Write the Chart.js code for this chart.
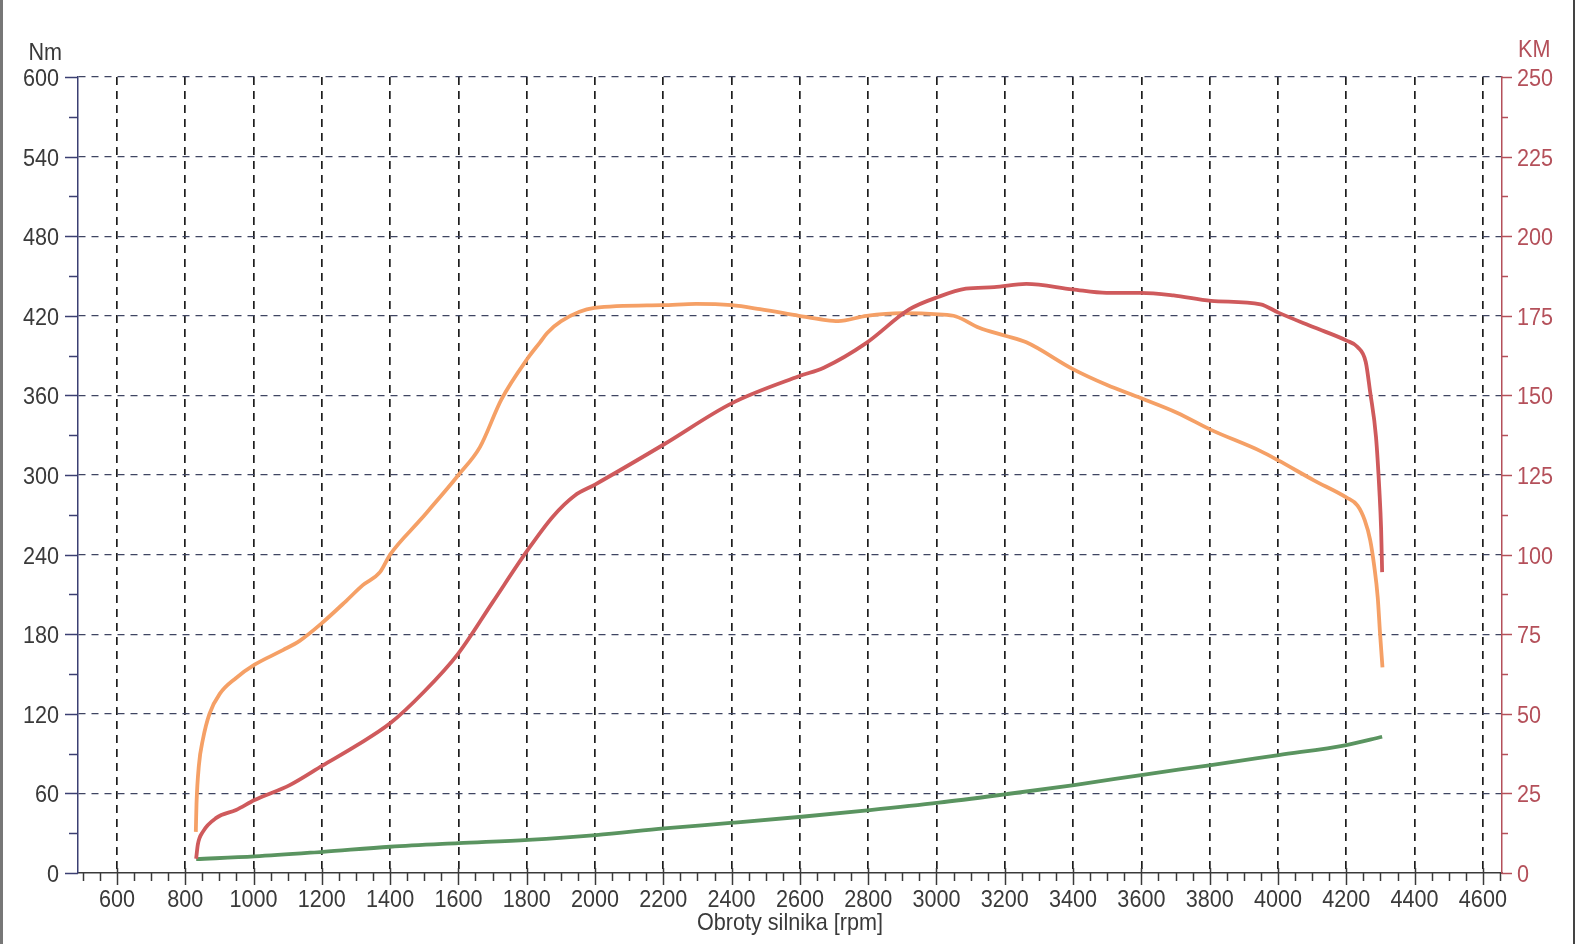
<!DOCTYPE html>
<html>
<head>
<meta charset="utf-8">
<script src="https://cdn.jsdelivr.net/npm/chart.js@4.4.1/dist/chart.umd.min.js"></script>
<style>
html,body{margin:0;padding:0;background:#fff;}
#wrap{position:relative;width:1578px;height:944px;overflow:hidden;}
canvas{display:block;}
#frame{position:absolute;left:0;top:0;width:1575px;height:944px;border-left:3px solid #777;border-right:2px solid #444;box-sizing:border-box;pointer-events:none;}
</style>
</head>
<body>
<div id="wrap"><canvas id="c" width="1578" height="944"></canvas><div id="frame"></div></div>
<script>
// ---- data ----
const torqueRpm = [831,833,840,852,871,901,949,1003,1086,1135,1203,1271,1320,1371,1400,1488,1565,1600,1663,1726,1803,1839,1860,1901,1998,2197,2296,2400,2483,2597,2670,2712,2795,2900,3007,3057,3125,3201,3263,3398,3498,3598,3704,3804,3949,4001,4105,4201,4233,4254,4270,4282,4292,4299,4306];
const torqueNm  = [31,52,81,101,120,135,147,157,168,175,189,205,217,227,240,266,289,300,321,357,388,400,407,416,426,428,429,428,425,420,417,416,420,422,421,419.5,411,405,400,380,368,358,347,334,318,311,296,283,277,266,251,231,208,180,155];

const powerRpm = [832,837,852,891,949,1003,1106,1203,1301,1400,1500,1600,1700,1800,1877,1940,2000,2200,2400,2597,2670,2795,2920,3007,3086,3169,3263,3398,3498,3598,3694,3804,3949,4001,4105,4201,4233,4257,4270,4287,4297,4302,4305];
const powerKM  = [4.5,9,13,17.3,19.8,22.9,27.6,33.8,40,47,57,69,85,101,112,118.5,122,134.5,147.5,156,158.7,166.5,177,181,183.5,184,185,183.3,182.2,182.2,181.4,179.7,178.6,176,171.4,167.2,165.2,160.5,151,137,120,108,94.5];

const thirdRpm = [832,1003,1203,1400,1600,1805,2003,2203,2405,2605,2805,3007,3206,3403,3599,3804,4002,4200,4305];
const thirdVal = [10.5,12.5,16,19.8,22.5,25,28.6,33.6,37.9,42.4,47.4,53,59.5,66.3,73.8,81.4,88.9,96.4,102.7];

const rpmTicks = [600,800,1000,1200,1400,1600,1800,2000,2200,2400,2600,2800,3000,3200,3400,3600,3800,4000,4200,4400,4600];
const nmTicks  = [0,60,120,180,240,300,360,420,480,540,600];
const kmTicks  = [0,25,50,75,100,125,150,175,200,225,250];

const xTitle = 'Obroty silnika [rpm]';
const leftUnit = 'Nm';
const rightUnit = 'KM';

// ---- styling ----
const FONT = '"Liberation Sans", Arimo, Arial, sans-serif';
const FSIZE = 24;
const SQ = 0.9; // narrow face of the original
const C_TEXT = '#3a3a3a', C_LEFT = '#3b3f72', C_RIGHT = '#b4505a';
const zip = (xs, ys) => xs.map((v, i) => ({x: v, y: ys[i]}));

function narrowText(ctx, text, x, y, align, color) {
  ctx.save();
  ctx.fillStyle = color;
  ctx.font = FSIZE + 'px ' + FONT;
  ctx.textAlign = align;
  ctx.textBaseline = 'alphabetic';
  ctx.translate(x, y);
  ctx.scale(SQ, 1);
  ctx.fillText(text, 0, 0);
  ctx.restore();
}

const axisPlugin = {
  id: 'axisDecor',
  afterDraw(chart) {
    const {ctx, chartArea, scales} = chart;
    const x = scales.x, y = scales.y, y2 = scales.y2;
    ctx.save();
    ctx.lineWidth = 1.5;
    // x axis tick marks (minor every 50 rpm)
    ctx.strokeStyle = C_TEXT;
    const ay = chartArea.bottom;
    for (let v = Math.ceil(x.min / 50) * 50; v <= x.max; v += 50) {
      const px = Math.round(x.getPixelForValue(v)) + 0.5;
      const major = v % 200 === 0;
      ctx.beginPath();
      ctx.moveTo(px, major ? ay - 5 : ay);
      ctx.lineTo(px, major ? ay + 12 : ay + 8);
      ctx.stroke();
    }
    // left axis tick marks
    ctx.strokeStyle = C_LEFT;
    const lx = chartArea.left;
    for (let v = 0; v <= y.max; v += 30) {
      const py = Math.round(y.getPixelForValue(v)) + 0.5;
      const major = v % 60 === 0;
      ctx.beginPath();
      ctx.moveTo(major ? lx - 13 : lx - 9, py);
      ctx.lineTo(lx, py);
      ctx.stroke();
    }
    // right axis tick marks
    ctx.strokeStyle = C_RIGHT;
    const rx = chartArea.right;
    for (let v = 0; v <= y2.max; v += 12.5) {
      const py = Math.round(y2.getPixelForValue(v)) + 0.5;
      const major = v % 25 === 0;
      ctx.beginPath();
      ctx.moveTo(rx, py);
      ctx.lineTo(major ? rx + 10 : rx + 6, py);
      ctx.stroke();
    }
    ctx.restore();
    // tick labels from the scales' ticks
    x.ticks.forEach(t => narrowText(ctx, String(t.value), x.getPixelForValue(t.value), ay + 34, 'center', C_TEXT));
    y.ticks.forEach(t => narrowText(ctx, String(t.value), lx - 19, y.getPixelForValue(t.value) + 9, 'right', C_TEXT));
    y2.ticks.forEach(t => narrowText(ctx, String(t.value), rx + 15, y2.getPixelForValue(t.value) + 9, 'left', C_RIGHT));
    // titles
    narrowText(ctx, xTitle, (chartArea.left + chartArea.right) / 2, ay + 57, 'center', C_TEXT);
    narrowText(ctx, leftUnit, lx - 16, chartArea.top - 17, 'right', C_TEXT);
    narrowText(ctx, rightUnit, rx + 16, chartArea.top - 20, 'left', C_RIGHT);
  }
};

new Chart(document.getElementById('c'), {
  type: 'line',
  data: {
    datasets: [
      {label: 'KM', data: zip(powerRpm, powerKM), yAxisID: 'y2', borderColor: '#cf5a5c', borderWidth: 3.8},
      {label: 'Nm', data: zip(torqueRpm, torqueNm), yAxisID: 'y', borderColor: '#f5a066', borderWidth: 3.8},
      {label: 'v', data: zip(thirdRpm, thirdVal), yAxisID: 'y', borderColor: '#5a9460', borderWidth: 3.8}
    ]
  },
  options: {
    responsive: false,
    animation: false,
    devicePixelRatio: 1,
    layout: {padding: {top: 77, left: 0, right: 0, bottom: 0}},
    elements: {
      point: {radius: 0, hoverRadius: 0},
      line: {cubicInterpolationMode: 'monotone', fill: false}
    },
    plugins: {legend: {display: false}, tooltip: {enabled: false}},
    scales: {
      x: {
        type: 'linear', position: 'bottom', min: 486, max: 4656,
        afterBuildTicks: s => { s.ticks = rpmTicks.map(v => ({value: v})); },
        ticks: {display: false},
        grid: {color: '#1e1e1e', lineWidth: 1.7, drawTicks: false},
        border: {color: C_TEXT, width: 1.5, dash: [8, 6]},
        afterFit: s => { s.height = 71; }
      },
      y: {
        type: 'linear', position: 'left', min: 0, max: 600,
        afterBuildTicks: s => { s.ticks = nmTicks.map(v => ({value: v})); },
        ticks: {display: false},
        grid: {color: c => (c.tick && c.tick.value === 0) ? 'transparent' : '#3f4562', lineWidth: 1.3, drawTicks: false},
        border: {color: C_LEFT, width: 1.5, dash: [7, 6]},
        afterFit: s => { s.width = 78; }
      },
      y2: {
        type: 'linear', position: 'right', min: 0, max: 250,
        afterBuildTicks: s => { s.ticks = kmTicks.map(v => ({value: v})); },
        ticks: {display: false},
        grid: {drawOnChartArea: false, drawTicks: false},
        border: {color: C_RIGHT, width: 1.5},
        afterFit: s => { s.width = 76; }
      }
    }
  },
  plugins: [axisPlugin]
});
</script>
</body>
</html>
